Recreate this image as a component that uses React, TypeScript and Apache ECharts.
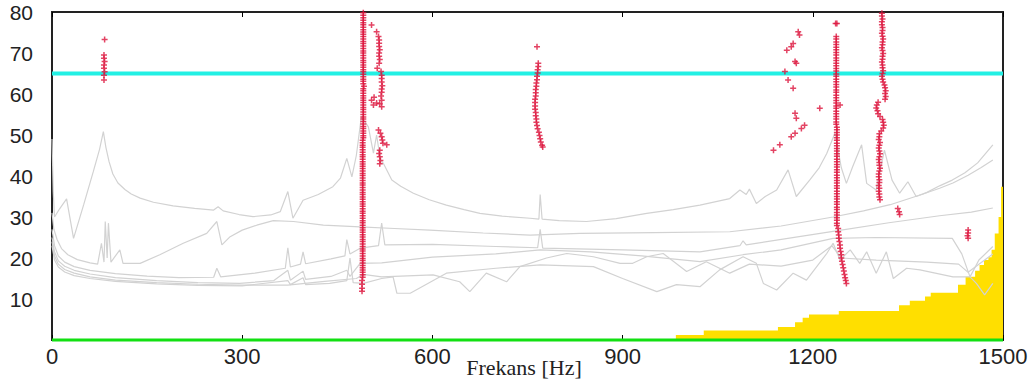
import React, { useEffect, useRef } from "react";
import * as echarts from "echarts";

// ---- axes ----
const xMin = 0;
const xMax = 1500;
const xStep = 300;
const yMin = 0;
const yMax = 80;
const yStep = 10;
const xTitle = "Frekans [Hz]";

// ---- reference levels ----
const cyanLevel = 65;
const greenLevel = 0;

// ---- yellow step area: [start frequency, level] ----
const yellowSteps: [number, number][] = [
  [984, 1.2], [1028, 2.3], [1145, 3.2], [1172, 4.3], [1184, 5.4], [1194, 6.2],
  [1241, 7.1], [1336, 8.5], [1353, 9.6], [1377, 10.6], [1386, 11.5], [1429, 13.5],
  [1441, 15.4], [1456, 16.9], [1463, 18.3], [1470, 19.5], [1477, 20.2], [1482, 22],
  [1487, 26], [1493, 30], [1497, 37.4], [1500, 37.4],
];

// ---- grey curves ----
const greyA: [number, number][] = [
  [0, 49], [2, 36], [4, 30], [12, 32], [23, 34.4], [34, 24.8], [50, 33], [65, 41], [75, 46.5],
  [81, 50.8], [85, 47], [90, 43.5], [96, 40.5], [104, 38.3], [115, 36.7], [125, 35.6],
  [139, 34.6], [160, 33.6], [191, 32.7], [225, 32.1], [255, 31.7], [262, 32.5], [270, 31.5],
  [295, 30.6], [317, 30.1], [345, 30.5], [360, 31.3], [372, 36.2], [380, 29.7], [396, 34.1],
  [420, 35.5], [443, 37.4], [455, 39.5], [465, 44.3], [473, 39.8], [480, 45], [488, 54.5],
  [499, 52], [507, 45.6], [512, 50], [518, 44], [523, 43], [536, 39], [550, 37.5], [570, 35.8],
  [595, 34.2], [622, 32.9], [650, 31.8], [675, 30.9], [710, 30.2], [754, 29.7], [768, 29.5],
  [770, 35.5], [773, 29.5], [800, 29.1], [843, 28.9], [890, 29.6], [938, 30.9], [980, 31.8],
  [1022, 32.9], [1069, 34.5], [1085, 36.6], [1095, 35.5], [1100, 36.8], [1111, 33.3],
  [1125, 35], [1143, 36.6], [1161, 41.5], [1174, 35], [1195, 39], [1210, 42], [1222, 45.5],
  [1235, 50.5], [1245, 42], [1253, 38.2], [1263, 42.3], [1277, 47.6], [1285, 38.2],
  [1300, 36.6], [1313, 46.3], [1325, 39], [1337, 35.8], [1350, 38.6], [1363, 35],
  [1380, 36], [1400, 37.6], [1420, 39], [1440, 40.8], [1460, 43.2], [1484, 47.6],
];
const greyC: [number, number][] = [
  [0, 31], [3, 27], [8, 24.5], [15, 22.3], [25, 20.8], [40, 19.6], [60, 18.8], [72, 18.5],
  [78, 23.6], [82, 19], [84, 28.9], [87, 20], [89, 28.5], [93, 19], [107, 22], [112, 18.7],
  [139, 18.7], [170, 20.8], [207, 23.6], [244, 26], [260, 28.9], [268, 23.2], [281, 25.2],
  [300, 26.8], [323, 28], [349, 29.1], [381, 28.9], [428, 28], [486, 27.6], [540, 27.2],
  [596, 26.8], [680, 26.1], [754, 25.6], [833, 26], [950, 26.2], [1069, 26.4], [1150, 27.8],
  [1232, 30], [1280, 31.5], [1322, 33], [1374, 35.6], [1400, 37], [1421, 38.3], [1445, 40.2],
  [1465, 42], [1484, 43.9],
];
const greyD: [number, number][] = [
  [0, 27], [4, 23], [10, 20.5], [20, 19], [35, 17.9], [60, 17], [100, 16.2], [150, 15.6],
  [200, 15.2], [255, 15.3], [260, 17.5], [266, 15.4], [320, 16.3], [368, 17.5], [372, 22.5],
  [376, 17.8], [392, 18.5], [396, 21.5], [400, 18.6], [440, 19.8], [462, 20.5], [465, 24.5],
  [470, 21], [486, 22.4], [515, 23], [520, 28.5], [525, 23.2], [600, 23.3], [700, 22.8],
  [766, 22.5], [770, 27], [774, 22.4], [900, 22], [1022, 21.5], [1085, 23], [1090, 24.2],
  [1095, 23.2], [1232, 26.5], [1320, 28.6], [1400, 30.3], [1450, 31.2], [1484, 32.2],
];
const greyE: [number, number][] = [
  [0, 25], [4, 21.5], [10, 19.3], [20, 18], [35, 17], [60, 16.1], [100, 15.2], [165, 14.5],
  [230, 14], [296, 13.8], [350, 14.5], [372, 17], [376, 14.6], [396, 16.8], [400, 14.8],
  [440, 15.5], [465, 17], [470, 15.5], [486, 18.7], [520, 18.8], [600, 20.2], [700, 21],
  [770, 22], [850, 21.5], [930, 20.5], [1022, 19.1], [1090, 20.8], [1150, 22], [1232, 24.8],
  [1300, 25], [1420, 24.8], [1435, 21], [1448, 15.4], [1462, 19.5], [1484, 22.8],
];
const greyW1: [number, number][] = [
  [0, 24], [4, 20.5], [10, 18.5], [20, 17.2], [35, 16.3], [60, 15.4], [100, 14.6], [165, 14],
  [230, 13.6], [296, 13.4], [372, 13.4], [430, 14.3], [480, 15], [491, 16], [520, 15.4],
  [601, 15.9], [643, 14.2], [659, 11.8], [685, 16.3], [717, 14.2], [738, 17.9], [780, 20],
  [812, 21.1], [854, 20.3], [896, 18.7], [916, 18.7], [938, 20.3], [964, 21.1], [1001, 16.7],
  [1032, 19.1], [1069, 16.3], [1100, 18.5], [1150, 18], [1200, 19.5], [1230, 23], [1245, 20],
  [1300, 19.5], [1380, 19], [1430, 18.5], [1445, 16.5], [1462, 18.5], [1484, 21],
];
const greyW2: [number, number][] = [
  [0, 23], [4, 19.5], [10, 17.8], [20, 16.6], [35, 15.7], [60, 15], [100, 14.3], [165, 13.7],
  [230, 13.3], [300, 13.2], [372, 14.5], [376, 13.5], [396, 15.2], [400, 13.5], [438, 13.8],
  [465, 14.5], [470, 20], [475, 14], [491, 13.8], [520, 15], [538, 15.4], [544, 11.4],
  [565, 11.4], [622, 16.3], [700, 17.5], [770, 18.3], [854, 17.9], [900, 15], [954, 11.8],
  [985, 13.5], [1022, 13], [1053, 17.1], [1090, 20.3], [1111, 18.7], [1122, 13.8],
  [1143, 12.2], [1169, 16.3], [1190, 14.6], [1222, 21.1], [1232, 23.6], [1243, 19.5],
  [1259, 22], [1274, 18.7], [1285, 21.5], [1300, 16.3], [1316, 21.5], [1327, 15], [1348, 17.5],
  [1369, 17.1], [1421, 15.4], [1448, 15.4], [1458, 13.8], [1471, 11], [1484, 13.8],
];
const greyCurves = [greyA, greyC, greyD, greyE, greyW1, greyW2];

// ---- red markers: [frequency, level] ----
const marks82: [number, number][] = [
  [83, 73.3], [82, 69.5], [82, 68.7], [83, 67.9], [82, 67.1], [82, 66.3], [83, 65.4],
  [82, 64.6], [82, 63.4],
];
const marks491: [number, number][] = [
  [491, 79.8], [491, 79.2], [491, 78.6], [491, 78.0], [491, 77.4], [491, 76.9], [491, 76.3],
  [491, 75.7], [491, 75.1], [491, 74.6], [491, 74.0], [491, 73.4], [491, 72.8], [491, 72.3],
  [491, 71.7], [491, 71.1], [491, 70.5], [491, 70.0], [491, 69.4], [491, 68.8], [491, 68.2],
  [491, 67.7], [491, 67.1], [491, 66.5], [491, 65.9], [491, 65.4], [491, 64.8], [491, 64.2],
  [491, 63.6], [491, 63.1], [491, 62.5], [492, 61.9], [491, 61.3], [491, 60.8], [491, 60.2],
  [491, 59.6], [491, 59.0], [491, 58.5], [491, 57.9], [491, 57.3], [491, 56.7], [491, 56.2],
  [491, 55.6], [491, 55.0], [491, 54.4], [491, 53.9], [491, 53.3], [491, 52.7], [491, 52.1],
  [491, 51.6], [491, 51.0], [491, 50.4], [491, 49.8], [491, 49.3], [490, 48.7], [490, 48.1],
  [490, 47.5], [490, 47.0], [490, 46.4], [490, 45.8], [490, 45.2], [490, 44.7], [490, 44.1],
  [490, 43.5], [490, 42.9], [490, 42.4], [490, 41.8], [490, 41.2], [490, 40.6], [490, 40.1],
  [490, 39.5], [490, 38.9], [490, 38.3], [490, 37.8], [490, 37.2], [490, 36.6], [490, 36.0],
  [490, 35.5], [490, 34.9], [490, 34.3], [490, 33.7], [490, 33.2], [490, 32.6], [490, 32.0],
  [490, 31.4], [490, 30.9], [490, 30.3], [490, 29.7], [490, 29.1], [490, 28.6], [490, 28.0],
  [490, 27.4], [490, 26.8], [490, 26.3], [490, 25.7], [490, 25.1], [490, 24.5], [490, 24.0],
  [490, 23.4], [490, 22.8], [490, 22.2], [490, 21.7], [490, 21.1], [490, 20.5], [490, 19.9],
  [490, 19.4], [490, 18.8], [490, 18.2], [490, 17.6], [490, 17.1], [490, 16.5], [490, 15.9],
  [490, 15.3], [489, 14.5], [489, 13.6], [489, 12.6], [489, 11.9],
];
const marks515: [number, number][] = [
  [504, 76.8], [512, 75.2], [515, 74], [516, 73.2], [516, 72.4], [516, 71.6], [517, 70.8],
  [516, 70], [516, 69.2], [517, 68.4], [516, 67.5], [513, 66.3], [519, 65.5], [520, 64.6],
  [520, 63.8], [520, 62.9], [521, 62], [520, 61.2], [520, 60.4], [519, 59.5], [520, 58.5],
  [504, 58.5], [508, 59.2], [512, 57.8], [507, 57.3], [517, 57.6], [520, 56.9], [515, 51.2],
  [518, 50.4], [520, 49.6], [521, 48.8], [522, 48], [528, 47.6], [517, 46.3], [516, 45.5],
  [517, 44.7], [518, 43.8], [517, 43],
];
const marks770: [number, number][] = [
  [765, 71.5], [767, 67.5], [767, 66.7], [766, 65.9], [766, 65.1], [765, 64.3], [765, 63.5],
  [764, 62.7], [764, 61.9], [763, 61.1], [763, 60.3], [763, 59.5], [762, 58.7], [762, 57.9],
  [762, 57.1], [762, 56.3], [763, 55.5], [763, 54.7], [764, 53.9], [764, 53.1], [765, 52.3],
  [766, 51.5], [768, 50.7], [769, 49.9], [770, 49.1], [771, 48.3], [773, 47.5], [774, 47.1],
];
const marks1170: [number, number][] = [
  [1177, 75.2], [1179, 74.4], [1169, 72.3], [1166, 71.5], [1159, 70.7], [1172, 67.9],
  [1174, 67.5], [1156, 65.5], [1161, 63.4], [1169, 61.4], [1211, 56.5], [1172, 55.3],
  [1174, 54.1], [1187, 52.4], [1182, 51.6], [1172, 50.4], [1166, 49.6], [1148, 47.6],
  [1138, 46.3],
];
const marks1240: [number, number][] = [
  [1236, 77.2], [1238, 77.2], [1243, 57.3],
  [1237, 74.0], [1237, 73.4], [1237, 72.7], [1237, 72.1], [1237, 71.4], [1237, 70.8],
  [1237, 70.1], [1237, 69.5], [1237, 68.8], [1237, 68.2], [1237, 67.5], [1237, 66.9],
  [1237, 66.2], [1237, 65.6], [1237, 64.9], [1237, 64.3], [1237, 63.6], [1237, 63.0],
  [1237, 62.3], [1237, 61.7], [1237, 61.0], [1237, 60.4], [1237, 59.7], [1237, 59.1],
  [1237, 58.4], [1237, 57.8], [1237, 57.1], [1237, 56.5], [1237, 55.8], [1237, 55.2],
  [1237, 54.5], [1237, 53.9], [1237, 53.2], [1237, 52.6], [1238, 51.9], [1238, 51.3],
  [1238, 50.6], [1238, 50.0], [1238, 49.3], [1238, 48.7], [1238, 48.0], [1238, 47.4],
  [1238, 46.7], [1238, 46.1], [1238, 45.4], [1238, 44.8], [1238, 44.1], [1238, 43.5],
  [1238, 42.8], [1238, 42.2], [1238, 41.5], [1238, 40.9], [1238, 40.2], [1238, 39.6],
  [1238, 38.9], [1238, 38.3], [1238, 37.6], [1238, 37.0], [1238, 36.3], [1238, 35.7],
  [1238, 35.0], [1238, 34.4], [1238, 33.7], [1238, 33.1], [1238, 32.4], [1238, 31.8],
  [1238, 31.1], [1238, 30.5], [1238, 29.8], [1238, 29.2], [1238, 28.5], [1238, 27.9],
  [1240, 27.2], [1240, 26.4], [1241, 25.6], [1241, 24.8], [1242, 24], [1243, 23.2],
  [1243, 22.4], [1244, 21.6], [1245, 20.8], [1245, 20], [1246, 19.2], [1247, 18.4],
  [1248, 17.6], [1249, 16.8], [1250, 16], [1251, 15.2], [1252, 14.5], [1253, 13.8],
];
const marks1310: [number, number][] = [
  [1309, 79.7], [1309, 79.0], [1310, 78.3], [1309, 77.6], [1309, 76.9], [1310, 76.2],
  [1310, 75.5], [1309, 74.8], [1310, 74.1], [1311, 73.4], [1310, 72.7], [1310, 72.0],
  [1309, 71.3], [1310, 70.6], [1311, 69.9], [1310, 69.2], [1310, 68.5], [1309, 67.8],
  [1310, 67.1], [1310, 66.4], [1311, 65.7], [1310, 65.0], [1309, 64.3], [1310, 63.6],
  [1311, 62.9], [1313, 62.2], [1314, 61.5], [1315, 60.8], [1314, 60.1], [1315, 59.4],
  [1314, 58.7], [1303, 58.0], [1301, 57.3], [1300, 56.6], [1302, 55.9], [1303, 55.2],
  [1306, 54.5], [1310, 53.8], [1311, 53.1], [1312, 52.4], [1311, 51.7], [1308, 51.0],
  [1305, 50.3], [1305, 49.6], [1304, 48.9], [1306, 48.2], [1305, 47.5], [1304, 46.8],
  [1305, 46.1], [1306, 45.4], [1305, 44.7], [1304, 44.0], [1305, 43.3], [1305, 42.6],
  [1306, 41.9], [1305, 41.2], [1304, 40.5], [1304, 39.8], [1305, 39.1], [1305, 38.4],
  [1304, 37.7], [1305, 37.0], [1304, 36.3], [1305, 35.6], [1305, 34.9], [1306, 34.2],
];
const marks1335: [number, number][] = [[1334, 32.1], [1336, 31.3], [1337, 30.6]];
const marks1445: [number, number][] = [[1445, 26.8], [1445, 26.1], [1444, 25.4], [1445, 24.8]];
const redMarks = [
  marks82, marks491, marks515, marks770, marks1170, marks1240, marks1310, marks1335, marks1445,
];

const GREY = "#d2d2d2";
const RED = "#dc143c";
const PLUS = "path://M2.25,0H3.75V2.25H6V3.75H3.75V6H2.25V3.75H0V2.25H2.25Z";

export default function App() {
  const ref = useRef<HTMLDivElement>(null);
  useEffect(() => {
    document.body.style.margin = "0";
    const chart = echarts.init(ref.current as HTMLDivElement, null, { renderer: "svg" });
    const xAxisBase = {
      type: "value" as const,
      min: xMin,
      max: xMax,
      interval: xStep,
      axisLine: { show: false },
      splitLine: { show: false },
      axisTick: { show: true, inside: true, length: 5, lineStyle: { color: "#000", width: 1 } },
    };
    const series: any[] = [];
    series.push({
      type: "line",
      step: "end",
      data: yellowSteps,
      symbol: "none",
      lineStyle: { width: 0 },
      areaStyle: { color: "#ffdf00", opacity: 1 },
      z: 1,
      silent: true,
    });
    greyCurves.forEach((c) =>
      series.push({
        type: "line",
        data: c,
        symbol: "none",
        lineStyle: { color: GREY, width: 1.2 },
        z: 2,
        silent: true,
      })
    );
    series.push({
      type: "line",
      data: [[xMin, cyanLevel], [xMax, cyanLevel]],
      symbol: "none",
      lineStyle: { color: "#22f0e4", width: 4 },
      z: 3,
      clip: false,
    });
    series.push({
      type: "line",
      data: [[xMin, greenLevel], [xMax, greenLevel]],
      symbol: "none",
      lineStyle: { color: "#12e012", width: 3 },
      z: 4,
      clip: false,
    });
    redMarks.forEach((m) =>
      series.push({
        type: "scatter",
        data: m,
        symbol: PLUS,
        symbolSize: 6,
        itemStyle: { color: RED },
        z: 5,
      })
    );
    chart.setOption({
      animation: false,
      backgroundColor: "#fff",
      grid: {
        left: 52,
        right: 31,
        top: 12,
        bottom: 45,
        show: true,
        borderColor: "#222",
        borderWidth: 2,
      },
      xAxis: [
        {
          ...xAxisBase,
          position: "bottom",
          axisLabel: {
            fontSize: 22,
            fontFamily: "Liberation Sans",
            color: "#222",
            margin: 5,
            formatter: (v: number) => String(v),
          },
        },
        { ...xAxisBase, position: "top", axisLabel: { show: false } },
      ],
      yAxis: {
        type: "value",
        min: yMin,
        max: yMax,
        interval: yStep,
        axisLine: { show: false },
        axisTick: { show: false },
        splitLine: { show: false },
        axisLabel: {
          fontSize: 21,
          fontFamily: "Liberation Sans",
          color: "#222",
          margin: 19,
          formatter: (v: number) => (v === 0 ? "" : String(v)),
        },
      },
      graphic: [
        {
          type: "text",
          x: 524,
          y: 367,
          style: {
            text: xTitle,
            fontSize: 22,
            fontFamily: "Liberation Serif",
            fill: "#222",
            align: "center",
            verticalAlign: "middle",
          },
        },
      ],
      series,
    });
    return () => chart.dispose();
  }, []);
  return <div ref={ref} style={{ width: 1034, height: 385 }} />;
}
